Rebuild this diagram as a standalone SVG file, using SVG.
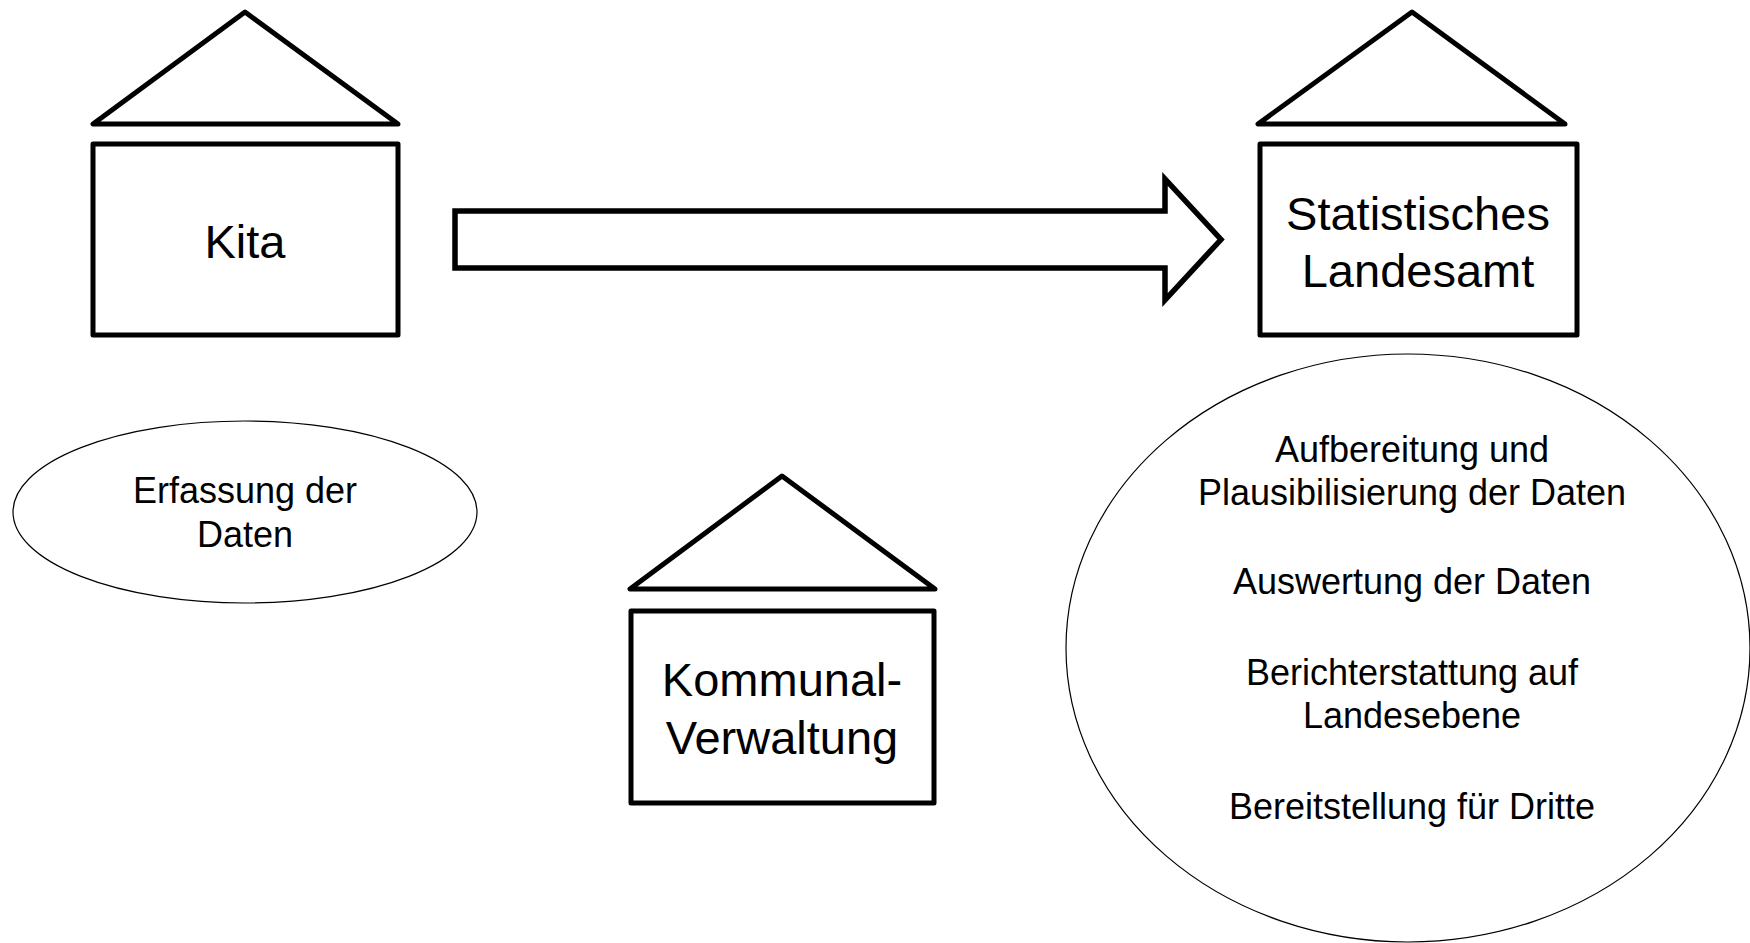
<svg xmlns="http://www.w3.org/2000/svg" width="1750" height="943" viewBox="0 0 1750 943">
  <style>
    .roof, .body { fill: #fff; stroke: #000; stroke-width: 5; stroke-linejoin: round; }
    .bubble { fill: #fff; stroke: #000; stroke-width: 1.2; }
    .big { font-family: "Liberation Sans", Arial, sans-serif; font-size: 47px; fill: #000; text-anchor: middle; }
    .small { font-family: "Liberation Sans", Arial, sans-serif; font-size: 36px; fill: #000; text-anchor: middle; }
    .flow { fill: #fff; stroke: #000; stroke-width: 5.5; stroke-linejoin: miter; }
  </style>
  <rect width="1750" height="943" fill="#fff"/>

  <!-- Kita building -->
  <g id="kita">
    <polygon class="roof" points="245,12 93,124 398,124"/>
    <rect class="body" x="93" y="144" width="305" height="191"/>
    <text class="big" x="245" y="258">Kita</text>
  </g>

  <!-- Kita task -->
  <g id="erfassung">
    <ellipse class="bubble" cx="245" cy="512" rx="232" ry="91"/>
    <text class="small" x="245" y="503">Erfassung der</text>
    <text class="small" x="245" y="547">Daten</text>
  </g>

  <!-- Statistical office building -->
  <g id="landesamt">
    <polygon class="roof" points="1412,12 1258,124 1565,124"/>
    <rect class="body" x="1260" y="144" width="317" height="191"/>
    <text class="big" x="1418" y="230">Statistisches</text>
    <text class="big" x="1418" y="287">Landesamt</text>
  </g>

  <!-- Municipal administration building -->
  <g id="kommunalverwaltung">
    <polygon class="roof" points="782,476 630,589 935,589"/>
    <rect class="body" x="631" y="611" width="303" height="192"/>
    <text class="big" x="782" y="696">Kommunal-</text>
    <text class="big" x="782" y="754">Verwaltung</text>
  </g>

  <!-- Statistical office tasks -->
  <g id="aufgaben">
    <ellipse class="bubble" cx="1408" cy="648" rx="342" ry="294"/>
    <text class="small" x="1412" y="462">Aufbereitung und</text>
    <text class="small" x="1412" y="505">Plausibilisierung der Daten</text>
    <text class="small" x="1412" y="594">Auswertung der Daten</text>
    <text class="small" x="1412" y="685">Berichterstattung auf</text>
    <text class="small" x="1412" y="728">Landesebene</text>
    <text class="small" x="1412" y="819">Bereitstellung für Dritte</text>
  </g>

  <!-- Data flow -->
  <g id="connectors">
    <polygon class="flow" points="455,211 1165,211 1165,179 1221,239.5 1165,300 1165,268 455,268"/>
  </g>
</svg>
